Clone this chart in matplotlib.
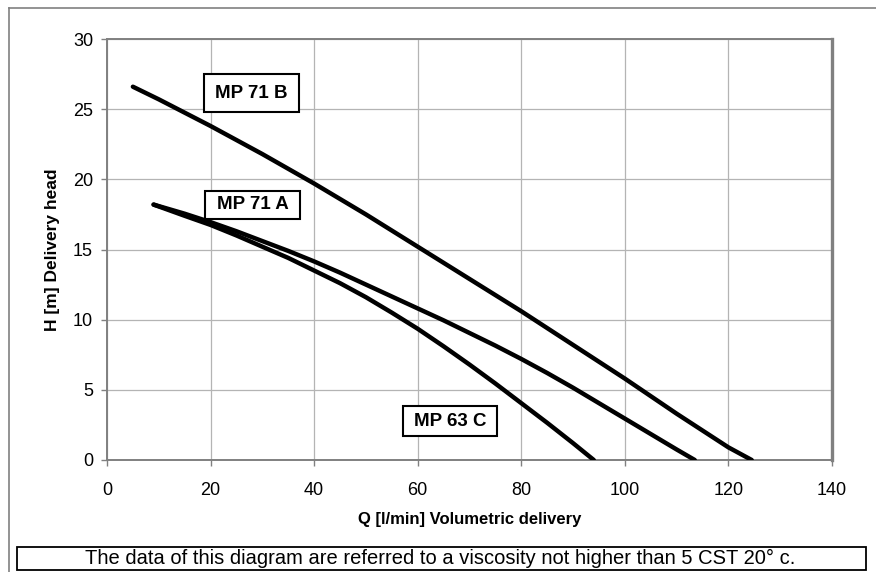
import matplotlib
matplotlib.use("Agg")
import matplotlib.pyplot as plt
from matplotlib.patches import Rectangle
from matplotlib.lines import Line2D

plt.rcParams['font.family'] = ['Liberation Sans', 'DejaVu Sans']

# pump curves
q_71b = [5, 10, 15, 20, 25, 30, 35, 40, 45, 50, 55, 60, 65, 70, 75, 80, 85,
         90, 95, 100, 105, 110, 115, 120, 124.5]
h_71b = [26.6, 25.7, 24.75, 23.8, 22.8, 21.8, 20.75, 19.7, 18.6, 17.5, 16.35,
         15.2, 14.05, 12.9, 11.75, 10.6, 9.4, 8.2, 7.0, 5.8, 4.55, 3.3, 2.1, 0.9, 0]

q_71a = [9, 15, 20, 25, 30, 35, 40, 45, 50, 55, 60, 65, 70, 75, 80, 85, 90,
         95, 100, 105, 110, 113.5]
h_71a = [18.2, 17.55, 16.95, 16.3, 15.6, 14.9, 14.15, 13.35, 12.5, 11.65, 10.8,
         9.95, 9.05, 8.15, 7.2, 6.2, 5.15, 4.05, 2.95, 1.85, 0.75, 0]

q_63c = [9, 15, 20, 25, 30, 35, 40, 45, 50, 55, 60, 65, 70, 75, 80, 85, 90, 94]
h_63c = [18.2, 17.4, 16.75, 16.0, 15.2, 14.4, 13.5, 12.6, 11.6, 10.5, 9.35,
         8.1, 6.8, 5.45, 4.05, 2.65, 1.2, 0]

labels = ['MP 71 B', 'MP 71 A', 'MP 63 C']
# label boxes in data units: (q0, h0, q1, h1)
boxes = [(18.7, 24.8, 37.1, 27.5), (18.9, 17.2, 37.3, 19.2), (57.1, 1.7, 75.3, 3.85)]

x_ticks = [0, 20, 40, 60, 80, 100, 120, 140]
y_ticks = [0, 5, 10, 15, 20, 25, 30]

W, H = 876, 572
fig = plt.figure(figsize=(W / 100, H / 100), dpi=100)
fig.patch.set_facecolor('white')

def fx(px):
    return px / W

def fy(py):
    return 1 - py / H

# outer frame (top + left)
fig.add_artist(Line2D([fx(9), 1.0], [fy(8), fy(8)], color='#808080', lw=1.2))
fig.add_artist(Line2D([fx(9), fx(9)], [fy(8), 0.0], color='#808080', lw=1.2))

ax = fig.add_axes([fx(107), fy(460), fx(832) - fx(107), fy(39) - fy(460)])
ax.set_xlim(0, 140)
ax.set_ylim(0, 30)
ax.set_xticks(x_ticks)
ax.set_yticks(y_ticks)
ax.grid(True, color='#b4b4b4', lw=0.9)
ax.set_axisbelow(True)
for s in ax.spines.values():
    s.set_color('#808080')
    s.set_linewidth(1.4)
ax.spines['right'].set_linewidth(2.4)
ax.tick_params(axis='both', colors='#808080', length=4, width=1, labelsize=13,
               labelcolor='black', pad=6)
ax.tick_params(axis='x', pad=12)

for q, h in [(q_71b, h_71b), (q_71a, h_71a), (q_63c, h_63c)]:
    ax.plot(q, h, color='black', lw=3.2, solid_capstyle='round',
            solid_joinstyle='round', zorder=3)

for lab, (q0, h0, q1, h1) in zip(labels, boxes):
    ax.add_patch(Rectangle((q0, h0), q1 - q0, h1 - h0, facecolor='white',
                           edgecolor='black', lw=1.5, zorder=4))
    ax.text((q0 + q1) / 2, (h0 + h1) / 2, lab, ha='center', va='center',
            fontsize=13.5, fontweight='bold', zorder=5)

ax.set_xlabel('Q [l/min] Volumetric delivery', fontsize=12, fontweight='bold')
ax.xaxis.set_label_coords(0.5, (460 - 512) / 421, transform=ax.transAxes)
ax.set_ylabel('H [m] Delivery head', fontsize=12.5, fontweight='bold')
ax.yaxis.set_label_coords((60 - 107) / 725, 0.5, transform=ax.transAxes)

# note box at the bottom
fig.add_artist(Rectangle((fx(17), fy(570)), fx(866) - fx(17), fy(547) - fy(570),
                         facecolor='white', edgecolor='black', lw=1.3,
                         transform=fig.transFigure))
fig.text(fx(440), fy(558.5), 'The data of this diagram are referred to a viscosity not higher than 5 CST 20° c.',
         ha='center', va='center', fontsize=14.5,
         family=['Liberation Sans Narrow', 'Liberation Sans', 'DejaVu Sans'])

fig.savefig('out.png', dpi=100)
